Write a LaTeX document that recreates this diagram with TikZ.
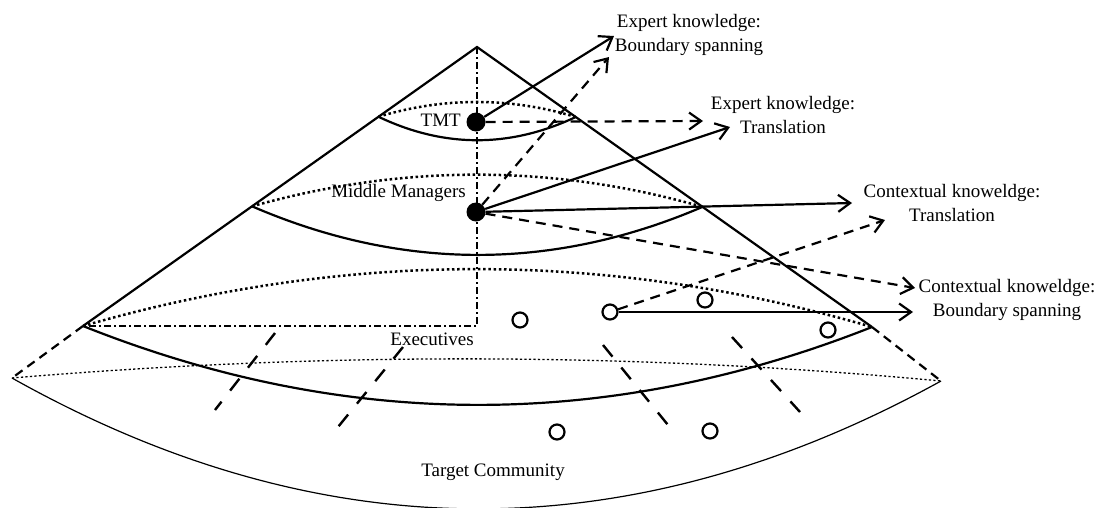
\documentclass[tikz,border=0pt]{standalone}
\usepackage{fontspec}
\setmainfont{Liberation Serif}
\usetikzlibrary{arrows.meta,calc}

\begin{document}
\begin{tikzpicture}[x=1pt,y=-1pt,
  lbl/.style={font=\fontsize{19}{24}\selectfont, inner sep=0pt, align=center},
  main/.style={line width=2.2pt},
  thin/.style={line width=1.2pt},
  backdot/.style={line width=2.5pt, dash pattern=on 2.5pt off 2.7pt},
  faint/.style={line width=1.3pt, dash pattern=on 2.2pt off 2.3pt},
  axis/.style={line width=2.2pt, dash pattern=on 7pt off 3pt on 2pt off 3pt},
  radial/.style={line width=2.4pt, dash pattern=on 15pt off 14pt},
  edgedash/.style={line width=2.2pt, dash pattern=on 9pt off 6pt},
  flow/.style={line width=2.2pt, -{Straight Barb[length=12pt,width=17pt]}},
  flowd/.style={flow, dash pattern=on 10pt off 7pt},
  actor/.style={circle, fill=black, minimum size=19pt, inner sep=0pt},
  member/.style={circle, draw, line width=2.2pt, minimum size=15pt, inner sep=0pt},
]
\useasboundingbox (0,0) rectangle (1102,507);

% cone outline
\coordinate (apex) at (477,47);
\coordinate (L) at (83,326);
\coordinate (R) at (872,327);
\coordinate (OL) at (12,378);
\coordinate (OR) at (941,381);
\coordinate (tl) at ($(apex)!0.25!(L)$);
\coordinate (tr) at ($(apex)!0.25!(R)$);
\coordinate (ml) at ($(apex)!0.571!(L)$);
\coordinate (mr) at ($(apex)!0.571!(R)$);

\draw[main] (L) -- (apex) -- (R);

% axes of the cone
\draw[axis] (apex) -- (apex |- L) -- (L);

% TMT slice
\draw[backdot] (tl) .. controls (444,97) and (510,97) .. (tr);
\draw[main] (tl) .. controls (444,148) and (510,148) .. (tr);

% middle managers slice
\draw[backdot] (ml) .. controls (402,164) and (553,164) .. (mr);
\draw[main] (ml) .. controls (402,271) and (553,271) .. (mr);

% executives slice
\draw[backdot] (L) .. controls (346,250) and (609,250) .. (R);
\draw[main] (L) .. controls (346,431) and (609,431) .. (R);

% target community base
\draw[edgedash] (L) -- (OL);
\draw[edgedash] (R) -- (OR);
\draw[faint] (OL) .. controls (322,352) and (631,352) .. (OR);
\draw[thin] (OL) .. controls (322,552) and (631,552) .. (OR);

% radial dashed lines
\draw[radial] (275,333) -- (215,410);
\draw[radial] (403,347) -- (338,427);
\draw[radial] (603,345) -- (668,425);
\draw[radial] (732,337) -- (800,412);

% actors
\node[actor] (tmt) at (476,122) {};
\node[actor] (mm) at (476,212) {};
\node[member] (c1) at (520,320) {};
\node[member] (c2) at (610,312) {};
\node[member] (c3) at (705,300) {};
\node[member] (c4) at (828,330) {};
\node[member] (c5) at (557,432) {};
\node[member] (c6) at (710,431) {};

% labels
\node[lbl, anchor=east] (ltmt) at (461,120) {TMT};
\node[lbl, anchor=east] (lmm) at (466,193) {Middle Managers};
\node[lbl, anchor=east] (lex) at (474,339) {Executives};
\node[lbl] (ltc) at (493,472) {Target Community};
\node[lbl] (ekbs) at (689,35) {Expert knowledge:\\Boundary spanning};
\node[lbl] (ektr) at (783,115) {Expert knowledge:\\Translation};
\node[lbl] (cktr) at (952,203) {Contextual knoweldge:\\Translation};
\node[lbl] (ckbs) at (1007,300) {Contextual knoweldge:\\Boundary spanning};

% arrow ends
\coordinate (e1) at (614,36);
\coordinate (e2) at (609,57);
\coordinate (e3) at (703,121);
\coordinate (e4) at (730,127);
\coordinate (e5) at (852,203);
\coordinate (e6) at (915,288);
\coordinate (e7) at (885,220);
\coordinate (e8) at (913,312);

% knowledge flows
\draw[flow] (tmt) -- (e1);
\draw[flowd] (mm) -- (e2);
\draw[flowd] (tmt) -- (e3);
\draw[flow] (mm) -- (e4);
\draw[flow] (mm) -- (e5);
\draw[flowd] (mm) -- (e6);
\draw[flowd] (c2) -- (e7);
\draw[flow] (c2) -- (e8);
\end{tikzpicture}
\end{document}
